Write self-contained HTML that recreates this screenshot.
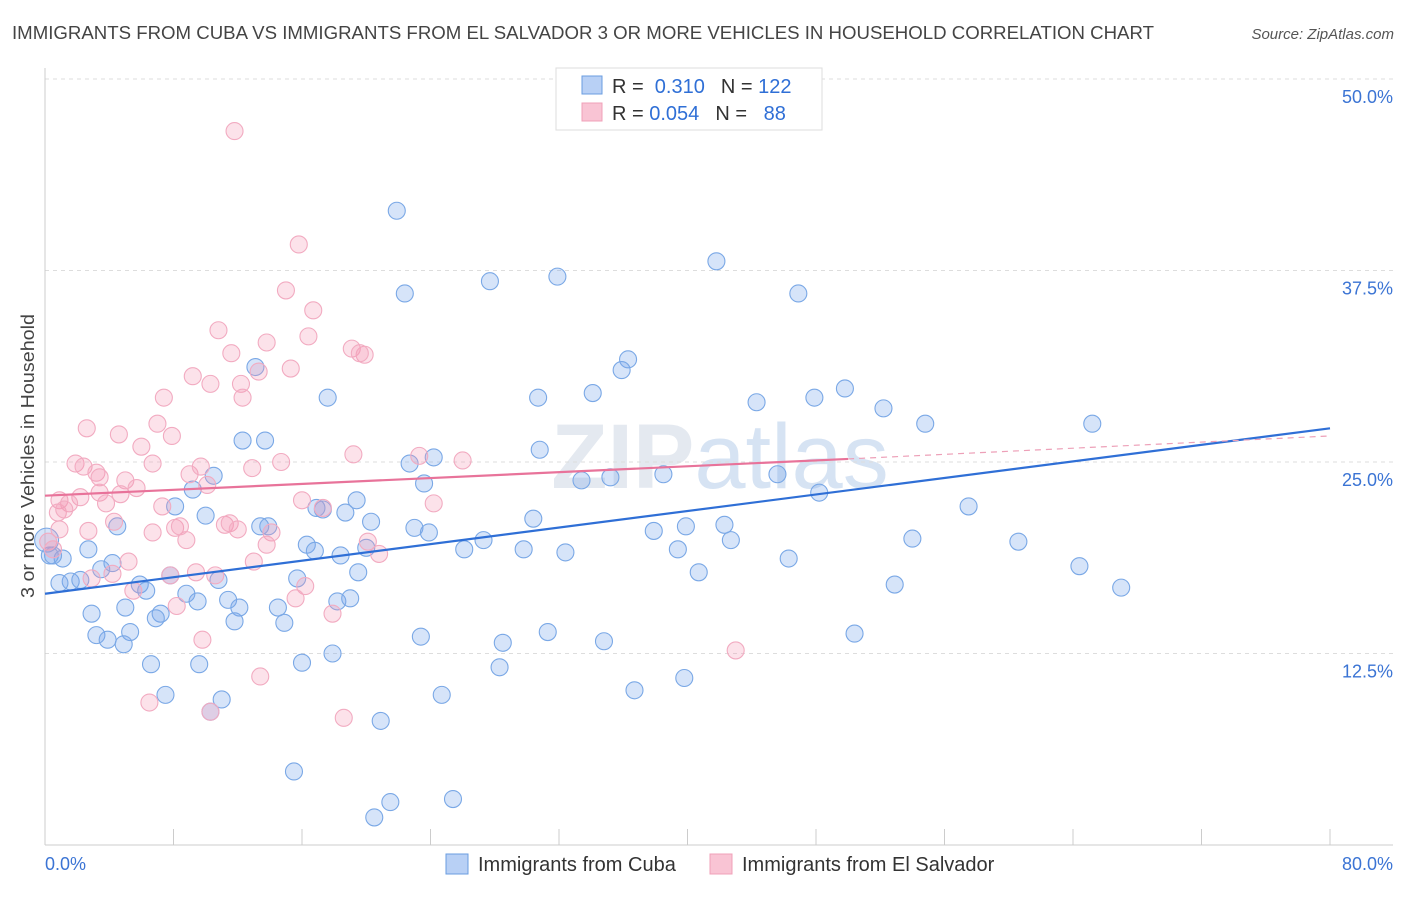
<!DOCTYPE html>
<html><head><meta charset="utf-8"><style>
body{margin:0;background:#fff;font-family:"Liberation Sans",sans-serif;}
svg text{font-family:"Liberation Sans",sans-serif;}
</style></head><body>
<svg id="chart" width="1406" height="892" viewBox="0 0 1406 892" xmlns="http://www.w3.org/2000/svg">
<text x="12" y="39" font-size="18" fill="#444" textLength="1142" lengthAdjust="spacingAndGlyphs">IMMIGRANTS FROM CUBA VS IMMIGRANTS FROM EL SALVADOR 3 OR MORE VEHICLES IN HOUSEHOLD CORRELATION CHART</text>
<text x="1394" y="39" font-size="15" fill="#555" text-anchor="end" font-style="italic">Source: ZipAtlas.com</text>
<text x="720" y="488" font-size="92" fill="#e4e9f0" text-anchor="middle" font-weight="bold">ZIP<tspan fill="#d6e3f3" font-weight="normal">atlas</tspan></text>
<g id="grid"></g>
<g id="axes"></g>
<g id="pts"></g>
<g id="trends"></g>
<text transform="translate(34,456) rotate(-90)" font-size="18" fill="#444" text-anchor="middle" textLength="284" lengthAdjust="spacingAndGlyphs">3 or more Vehicles in Household</text>
<g>
<rect x="556" y="68" width="266" height="62" fill="#fff" stroke="#ddd"/>
<rect x="582" y="76" width="20" height="18" fill="#b8d0f5" stroke="#6a9de0"/>
<rect x="582" y="103" width="20" height="18" fill="#f9c4d4" stroke="#f0a0b8"/>
<text x="612" y="93" font-size="20" fill="#333">R = <tspan fill="#2f6fd6">&#160;0.310</tspan><tspan dx="16">N = </tspan><tspan fill="#2f6fd6">122</tspan></text>
<text x="612" y="120" font-size="20" fill="#333">R = <tspan fill="#2f6fd6">0.054</tspan><tspan dx="16">N = </tspan><tspan fill="#2f6fd6">&#160;&#160;88</tspan></text>
</g>
<g>
<rect x="446" y="854" width="22" height="20" fill="#b8d0f5" stroke="#6a9de0"/>
<text x="478" y="871" font-size="20" fill="#333">Immigrants from Cuba</text>
<rect x="710" y="854" width="22" height="20" fill="#f9c4d4" stroke="#f0a0b8"/>
<text x="742" y="871" font-size="20" fill="#333">Immigrants from El Salvador</text>
</g>
</svg>
<script>
const yTicks=[12.5,25,37.5,50];
const yTickLabels=["12.5%","25.0%","37.5%","50.0%"];
const xTicks=[0,8,16,24,32,40,48,56,64,72,80];
const xEndLabels=["0.0%","80.0%"];
const cubaX=[21.9,22.4,27.7,31.9,41.8,46.9,36.3,35.9,34.1,30.7,44.3,47.9,49.8,52.2,54.8,65.2,30.8,24.2,22.7,23.6,33.4,35.2,38.5,45.6,48.2,57.5,12.3,13.7,10.5,13.1,17.6,9.2,8.1,10.0,4.5,2.7,1.1,0.5,1.6,2.2,3.5,4.2,5.9,6.3,7.8,8.8,10.8,11.4,12.1,11.8,9.5,7.2,6.9,5.0,2.9,5.3,3.2,3.9,4.9,6.6,7.5,9.6,11.0,10.3,14.5,14.9,15.7,16.3,16.8,16.9,17.3,18.7,19.4,20.3,18.4,20.0,19.5,18.2,19.0,16.0,17.9,15.5,20.9,21.5,20.5,25.4,24.7,28.3,28.5,23.4,26.1,27.3,29.8,32.4,30.4,23.0,23.9,34.8,31.3,36.7,39.8,37.9,39.9,39.4,42.3,42.7,40.7,46.3,50.4,52.9,54.0,60.6,64.4,67.0,13.4,13.9,0.3,0.9,0.1];
const cubaY=[41.4,36.0,36.8,37.1,38.1,36.0,31.7,31.0,29.5,29.2,28.9,29.2,29.8,28.5,27.5,27.5,25.8,25.3,24.9,23.6,23.8,24.0,24.2,24.2,23.0,22.1,26.4,26.4,24.1,31.2,29.2,23.2,22.1,21.5,20.8,19.3,18.7,18.9,17.2,17.3,18.0,18.4,17.0,16.6,17.6,16.4,17.3,16.0,15.5,14.6,15.9,15.1,14.8,15.5,15.1,13.9,13.7,13.4,13.1,11.8,9.8,11.8,9.5,8.7,15.5,14.5,17.4,19.6,19.2,22.0,21.9,21.7,22.5,21.1,18.9,19.4,17.8,15.9,16.1,11.9,12.5,4.8,8.1,2.8,1.8,3.0,9.8,11.6,13.2,13.6,19.3,19.9,19.3,19.1,21.3,20.7,20.4,13.3,13.9,10.1,10.9,20.5,20.8,19.3,20.9,19.9,17.8,18.7,13.8,17.0,20.0,19.8,18.2,16.8,20.8,20.8,18.9,17.1,19.9];
const salvX=[11.8,15.8,15.0,16.7,16.4,10.8,11.6,13.8,19.1,19.9,19.6,9.2,10.3,12.2,12.3,13.3,15.3,7.4,7.0,7.9,4.6,2.6,6.0,6.7,1.9,2.4,3.2,3.4,5.0,5.7,3.4,2.2,0.9,1.5,0.8,1.2,3.8,9.0,9.7,10.1,12.9,14.7,19.2,23.3,26.0,24.2,16.0,17.3,8.1,8.8,8.4,11.2,11.5,12.0,14.1,13.8,6.7,7.3,4.7,4.3,2.7,0.9,0.2,0.5,5.2,4.2,2.9,7.8,9.4,10.6,13.0,16.2,15.6,20.1,20.8,5.5,8.2,17.9,9.8,13.4,6.5,10.3,18.6,43.0];
const salvY=[46.6,39.2,36.2,34.9,33.2,33.6,32.1,32.8,32.4,32.0,32.1,30.6,30.1,30.1,29.2,30.9,31.1,29.2,27.5,26.7,26.8,27.2,26.0,24.9,24.9,24.7,24.3,24.0,23.8,23.3,23.0,22.7,22.5,22.3,21.7,21.9,22.3,24.2,24.7,23.5,24.6,25.0,25.5,25.4,25.1,22.3,22.5,22.0,20.7,19.9,20.8,20.9,21.0,20.6,20.4,19.6,20.4,22.1,22.9,21.1,20.5,20.6,19.8,19.3,18.5,17.7,17.4,17.6,17.8,17.6,18.5,16.9,16.1,19.8,19.0,16.6,15.6,15.1,13.4,11.0,9.3,8.7,8.3,12.7];
const trendX=[0,50,80];
const cubaTrend=[16.4,21.9,27.2];
const salvTrend=[22.8,25.2,26.7];
const NS="http://www.w3.org/2000/svg";
const X0=45,X1=1330,Y0=845,YTOP=79;
const xs=v=>X0+(v/80)*(X1-X0);
const ys=v=>Y0-(v/50)*(Y0-YTOP);
function mk(tag,attrs,parent){const e=document.createElementNS(NS,tag);for(const k in attrs)e.setAttribute(k,attrs[k]);parent.appendChild(e);return e;}
const grid=document.getElementById('grid'),axes=document.getElementById('axes'),pts=document.getElementById('pts'),tr=document.getElementById('trends');
yTicks.forEach((t,i)=>{
 const l=mk('line',{x1:X0,x2:1393,y1:ys(t),y2:ys(t),stroke:'#ddd','stroke-dasharray':'4,4'},grid);
 
 
 const tx=mk('text',{x:1393,y:ys(t)+24,'font-size':18,fill:'#3b74d4','text-anchor':'end'},grid);
 tx.textContent=yTickLabels[i];
 
 
});
const ya=mk('line',{x1:X0,x2:X0,y1:68,y2:Y0,stroke:'#ccc'},axes);


const xa=mk('line',{x1:X0,x2:1393,y1:Y0,y2:Y0,stroke:'#ccc'},axes);


xTicks.forEach(t=>{
 const l=mk('line',{x1:xs(t),x2:xs(t),y1:829,y2:Y0,stroke:'#ccc'},axes);
 
 
});
const xl0=mk('text',{x:45,y:870,'font-size':18,fill:'#3b74d4'},axes);xl0.textContent=xEndLabels[0];


const xl1=mk('text',{x:1393,y:870,'font-size':18,fill:'#3b74d4','text-anchor':'end'},axes);xl1.textContent=xEndLabels[1];


cubaX.forEach((v,i)=>{
 const c=mk('circle',{cx:xs(v),cy:ys(cubaY[i]),r:i===cubaX.length-1?12:8.5,fill:'rgba(120,165,235,0.3)',stroke:'#7aa8e6','stroke-width':1.1},pts);
 
 
});
salvX.forEach((v,i)=>{
 const c=mk('circle',{cx:xs(v),cy:ys(salvY[i]),r:8.5,fill:'rgba(245,150,180,0.28)',stroke:'#f2abc1','stroke-width':1.1},pts);
 
 
});
const bl=mk('line',{x1:xs(trendX[0]),y1:ys(cubaTrend[0]),x2:xs(trendX[2]),y2:ys(cubaTrend[2]),stroke:'#2f6fd6','stroke-width':2.2},tr);


const pl=mk('line',{x1:xs(trendX[0]),y1:ys(salvTrend[0]),x2:xs(trendX[1]),y2:ys(salvTrend[1]),stroke:'#e8739a','stroke-width':2.2},tr);


const pd=mk('line',{x1:xs(trendX[1]),y1:ys(salvTrend[1]),x2:xs(trendX[2]),y2:ys(salvTrend[2]),stroke:'#eda0b8','stroke-width':1.2,'stroke-dasharray':'6,5'},tr);


</script>
</body></html>
